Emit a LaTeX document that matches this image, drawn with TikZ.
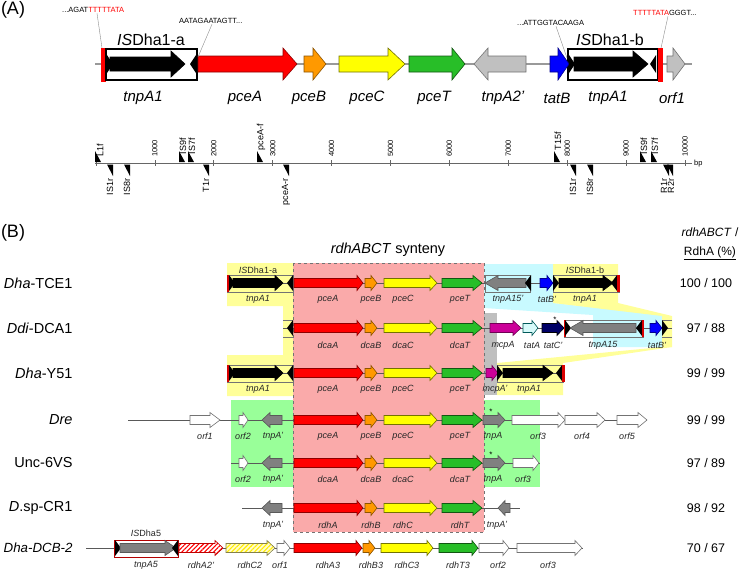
\documentclass[tikz,border=0pt]{standalone}
\usepackage{fontspec}
\setmainfont{Liberation Sans}
\usetikzlibrary{patterns.meta}
\definecolor{cRed}{RGB}{255,0,0}
\definecolor{cOrg}{RGB}{255,153,0}
\definecolor{cYel}{RGB}{255,255,0}
\definecolor{cGrn}{RGB}{40,190,40}
\definecolor{cLgray}{RGB}{192,192,192}
\definecolor{cDgray}{RGB}{128,128,128}
\definecolor{cBlue}{RGB}{0,0,255}
\definecolor{cMag}{RGB}{204,0,153}
\definecolor{cNavy}{RGB}{0,0,102}
\definecolor{cPale}{RGB}{215,250,250}
\definecolor{bgPink}{RGB}{250,170,170}
\definecolor{bgYel}{RGB}{255,255,153}
\definecolor{bgCyan}{RGB}{200,250,255}
\definecolor{bgGrn}{RGB}{153,255,153}
\definecolor{bgGray}{RGB}{191,191,191}
\def\gbh{8}\def\ghh{16}\def\irw{6}\def\irh{9}
\newcommand{\geneR}[5]{\filldraw[#1] (#2,#4-\gbh) -- (#5,#4-\gbh) -- (#5,#4-\ghh) -- (#3,#4) -- (#5,#4+\ghh) -- (#5,#4+\gbh) -- (#2,#4+\gbh) -- cycle;}
\newcommand{\geneL}[5]{\filldraw[#1] (#3,#4-\gbh) -- (#5,#4-\gbh) -- (#5,#4-\ghh) -- (#2,#4) -- (#5,#4+\ghh) -- (#5,#4+\gbh) -- (#3,#4+\gbh) -- cycle;}
\newcommand{\irRt}[2]{\fill (#1,#2-\irh) -- (#1+\irw,#2) -- (#1,#2+\irh) -- cycle;}
\newcommand{\irLt}[2]{\fill (#1,#2-\irh) -- (#1-\irw,#2) -- (#1,#2+\irh) -- cycle;}
\newcommand{\prF}[1]{\fill (#1,151) -- (#1,162) -- (#1+6,162) -- cycle;}
\newcommand{\prRv}[1]{\fill (#1,164.5) -- (#1+6,164.5) -- (#1+6,176) -- cycle;}
\newcommand{\coregenes}[1]{%
\geneR{fred}{294}{363}{#1}{357}%
\geneR{forg}{365}{377}{#1}{371}%
\geneR{fyel}{384}{437}{#1}{430}%
\geneR{fgrn}{442}{482}{#1}{473}}
\newcommand{\corelab}[6]{%
\node[blab] (#1a) at (328,#2) {#3};
\node[blab] (#1b) at (371,#2) {#4};
\node[blab] (#1c) at (403,#2) {#5};
\node[blab] (#1d) at (460,#2) {#6};}
\begin{document}
\begin{tikzpicture}[x=1pt,y=-1pt,
 gbase/.style={line width=0.6pt},
 fred/.style={gbase,fill=cRed,draw=cRed!55!black},
 forg/.style={gbase,fill=cOrg,draw=cOrg!55!black},
 fyel/.style={gbase,fill=cYel,draw=cYel!45!black},
 fgrn/.style={gbase,fill=cGrn,draw=cGrn!45!black},
 flg/.style={gbase,fill=cLgray,draw=black!55},
 fdg/.style={gbase,fill=cDgray,draw=black!65},
 fblu/.style={gbase,fill=cBlue,draw=cBlue!55!black},
 fmag/.style={gbase,fill=cMag,draw=cMag!55!black},
 fnav/.style={gbase,fill=cNavy,draw=black},
 fpale/.style={gbase,fill=cPale,draw=teal!70!black},
 fwht/.style={gbase,fill=white,draw=black!55},
 fblk/.style={gbase,fill=black,draw=black},
 hred/.style={gbase,pattern={Lines[angle=45,distance=3.2pt,line width=1.1pt]},pattern color=red,draw=red!75!black},
 hyel/.style={gbase,pattern={Lines[angle=45,distance=3.2pt,line width=1.1pt]},pattern color=yellow!85!orange,draw=yellow!45!black},
 bline/.style={line width=1.3pt,draw=black!40},
 rline/.style={line width=0.8pt,draw=black!60},
 rowline/.style={line width=0.7pt,draw=black!65},
 isbox/.style={line width=0.5pt,draw=black!55},
 seq/.style={font=\fontsize{7.5}{9}\selectfont,inner sep=0pt},
 seqline/.style={line width=0.4pt,draw=black!45},
 alab/.style={font=\fontsize{15}{17}\selectfont\itshape},
 islab/.style={font=\fontsize{16}{18}\selectfont},
 tlab/.style={font=\fontsize{7.5}{9}\selectfont,inner sep=1pt},
 plab/.style={font=\fontsize{9}{10}\selectfont,inner sep=0.5pt},
 blab/.style={font=\fontsize{9}{10}\selectfont\itshape,text=black!85},
 bis/.style={font=\fontsize{9}{10}\selectfont,text=black!85},
 rname/.style={font=\fontsize{14.5}{16}\selectfont,anchor=east},
 pct/.style={font=\fontsize{12.5}{14}\selectfont},
 star/.style={font=\fontsize{8}{9}\selectfont,inner sep=0pt}]
\useasboundingbox (0,0) rectangle (740,571);
\fill[white] (0,0) rectangle (740,571);
%================ (A) ================
\node[font=\fontsize{18}{20}\selectfont] (panA) at (13,10) {(A)};
\draw[bline] (95,64) -- (692,64);
\fill[red] (101,48) rectangle (106,82);
\filldraw[fill=white,draw=black,line width=2pt] (106,49) rectangle (197,80);
{\def\gbh{7}\def\ghh{13}\geneR{fblk}{110}{185}{64}{171}}
\irRt{107}{64}\irLt{196}{64}
\geneR{fred}{198}{297}{64}{283}
\geneR{forg}{304}{326}{64}{313}
\geneR{fyel}{339}{405}{64}{388}
\geneR{fgrn}{409}{465}{64}{452}
\geneL{flg}{474}{526}{64}{488}
\filldraw[fill=white,draw=black,line width=2pt] (568,49) rectangle (658,80);
\geneR{fblu}{550}{569}{64}{558}
{\def\gbh{7}\def\ghh{13}\geneR{fblk}{574}{648}{64}{633}}
\irRt{569}{64}\irLt{656}{64}
\fill[red] (658,48) rectangle (663,82);
\geneR{flg}{667}{685}{64}{673}
\node[islab] (isa) at (151,40) {\textit{IS}Dha1-a};
\node[islab] (isb) at (610,40) {\textit{IS}Dha1-b};
\node[seq,anchor=base west] (sq1) at (62,12) {...AGAT\textcolor{red}{TTTTTATA}};
\node[seq,anchor=base west] (sq2) at (179,23) {AATAGAATAGTT...};
\node[seq,anchor=base west] (sq3) at (517,25) {...ATTGGTACAAGA};
\node[seq,anchor=base west] (sq4) at (633,15) {\textcolor{red}{TTTTTATA}GGGT...};
\coordinate (ca1) at (102,48);
\coordinate (ca2) at (198,57);
\coordinate (ca3) at (567,58);
\coordinate (ca4) at (661,48);
\draw[seqline] ([xshift=35pt,yshift=-1pt]sq1.south west) -- (ca1);
\draw[seqline] ([xshift=33pt,yshift=-1pt]sq2.south west) -- (ca2);
\draw[seqline] ([xshift=39pt,yshift=-1pt]sq3.south west) -- (ca3);
\draw[seqline] ([xshift=35pt,yshift=-1pt]sq4.south west) -- (ca4);
\node[alab] (a1) at (143,98) {tnpA1};
\node[alab] (a2) at (245,98) {pceA};
\node[alab] (a3) at (309,98) {pceB};
\node[alab] (a4) at (367,98) {pceC};
\node[alab] (a5) at (434,98) {pceT};
\node[alab] (a6) at (503,98) {tnpA2'};
\node[alab] (a7) at (557,98) {tatB};
\node[alab] (a8) at (608,98) {tnpA1};
\node[alab] (a9) at (672,98) {orf1};
% ruler
\draw[rline] (95,163) -- (692,163);
\foreach \k in {0,...,10} \draw[rline] ({96+58.9*\k},160) -- ({96+58.9*\k},166);
\foreach \k in {1,...,10} \node[tlab,rotate=90,anchor=west] (t\k) at ({96+58.9*\k},158) {\k000};
\node[tlab,anchor=west] (bp) at (693,163.5) {bp};
\prF{95}\prF{179}\prF{188}\prF{257}\prF{554}\prF{640}\prF{651}
\prRv{107}\prRv{124}\prRv{203}\prRv{283}\prRv{570}\prRv{587}\prRv{663}\prRv{667}
\node[plab,rotate=90,anchor=west] (pf1) at (100,157) {L1f};
\node[plab,rotate=90,anchor=west] (pf2) at (183,155) {IS9f};
\node[plab,rotate=90,anchor=west] (pf3) at (192,155) {IS7f};
\node[plab,rotate=90,anchor=west] (pf4) at (261,151) {pceA-f};
\node[plab,rotate=90,anchor=west] (pf5) at (558,151) {T15f};
\node[plab,rotate=90,anchor=west] (pf6) at (644,155) {IS9f};
\node[plab,rotate=90,anchor=west] (pf7) at (655,155) {IS7f};
\node[plab,rotate=90,anchor=east] (pr1) at (110,178) {IS1r};
\node[plab,rotate=90,anchor=east] (pr2) at (127,178) {IS8r};
\node[plab,rotate=90,anchor=east] (pr3) at (206,178) {T1r};
\node[plab,rotate=90,anchor=east] (pr4) at (286,178) {pceA-r};
\node[plab,rotate=90,anchor=east] (pr5) at (573,178) {IS1r};
\node[plab,rotate=90,anchor=east] (pr6) at (590,178) {IS8r};
\node[plab,rotate=90,anchor=east] (pr7) at (664,178) {R1r};
\node[plab,rotate=90,anchor=east] (pr8) at (671,178) {R2r};
%================ (B) ================
\node[font=\fontsize{18}{20}\selectfont] (panB) at (13,233) {(B)};
\node[font=\fontsize{14.5}{16}\selectfont] (syn) at (388,250) {\textit{rdhABCT} synteny};
\node[font=\fontsize{12}{14}\selectfont] (h1) at (710,232) {\textit{rdhABCT} /};
\node[font=\fontsize{12}{14}\selectfont] (h2) at (710,253) {\underline{RdhA (\%)}};
% backgrounds
\fill[bgPink] (293,263) rectangle (484,532);
\fill[bgYel] (227,263) -- (293,263) -- (293,396) -- (227,396) -- (227,355) -- (283,355) -- (283,306) -- (227,306) -- cycle;
\fill[bgCyan] (484,264) -- (553,264) -- (553,303) -- (662,315) -- (662,347) -- (593,347) -- (593,315) -- (484,308) -- cycle;
\fill[bgYel] (553,264) -- (618,264) -- (618,303) -- (672,316) -- (672,347) -- (662,347) -- (662,316) -- (553,303) -- cycle;
\fill[bgYel] (662,347) -- (672,347) -- (563,363) -- (563,395) -- (497,395) -- (497,363) -- cycle;
\fill[bgGray] (484,313) rectangle (497,395);
\fill[bgGrn] (231,400) rectangle (293,487);
\fill[bgGrn] (484,400) rectangle (540,487);
\draw[black!55,dashed,line width=0.7pt] (293,263) rectangle (484,532);
\def\gbh{4.5}\def\ghh{7.5}\def\irw{6}\def\irh{8}
% row 1
\draw[rowline] (227,283) -- (619,283);
\draw[isbox] (227,275) rectangle (293,292);
\draw[isbox] (485,275) rectangle (530,292);
\draw[isbox] (553,275) rectangle (619,292);
\fill[red!85!black] (226.5,275) rectangle (229,292);
\irRt{229}{283}
\geneR{fblk}{233}{283}{283}{275}
\irLt{293}{283}
\coregenes{283}
\geneL{fdg}{485}{526}{283}{498}
\irLt{531}{283}
\geneR{fblu}{540}{553}{283}{547}
\irRt{553}{283}
\geneR{fblk}{559}{613}{283}{603}
\irLt{617}{283}
\fill[red!85!black] (617,275) rectangle (619.5,292);
\node[bis] (r1is1) at (258,270) {\textit{IS}Dha1-a};
\node[bis] (r1is2) at (585,270) {\textit{IS}Dha1-b};
\node[blab] (r1l1) at (258,299) {tnpA1};
\corelab{r1c}{299}{pceA}{pceB}{pceC}{pceT}
\node[blab] (r1l2) at (508,299) {tnpA15'};
\node[blab] (r1l3) at (547,299) {tatB'};
\node[blab] (r1l4) at (585,299) {tnpA1};
% row 2
\draw[rowline] (283,328) -- (672,328);
\draw[isbox] (283,320) -- (293,320) (283,337) -- (293,337);
\irLt{293}{328}
\coregenes{328}
\geneR{fmag}{490}{521}{328}{513}
\geneR{fpale}{523}{538}{328}{532}
\geneR{fnav}{542}{564}{328}{557}
\draw[isbox] (564,320) rectangle (643,337);
\fill[red!85!black] (563.5,320) rectangle (565.5,337);
\irRt{565}{328}
\geneL{fdg}{570}{636}{328}{583}
\irLt{642}{328}
\fill[red!85!black] (642,320) rectangle (644,337);
\geneR{fblu}{650}{662}{328}{656}
\draw[isbox] (662,320) -- (672,320) (662,337) -- (672,337);
\irRt{662}{328}
\node[star] (st1) at (555,320) {*};
\corelab{r2c}{345}{dcaA}{dcaB}{dcaC}{dcaT}
\node[blab] (r2l1) at (503,345) {mcpA};
\node[blab] (r2l2) at (532,345) {tatA};
\node[blab] (r2l3) at (553,345) {tatC'};
\node[blab] (r2l4) at (603,345) {tnpA15};
\node[blab] (r2l5) at (657,345) {tatB'};
% row 3
\draw[rowline] (227,373) -- (564,373);
\draw[isbox] (227,365) rectangle (293,382);
\fill[red!85!black] (226.5,365) rectangle (229,382);
\irRt{229}{373}
\geneR{fblk}{233}{283}{373}{275}
\irLt{293}{373}
\coregenes{373}
\geneR{fmag}{486}{498}{373}{492}
\draw[isbox] (497,365) rectangle (563,382);
\irRt{497}{373}
\geneR{fblk}{503}{553}{373}{543}
\irLt{562}{373}
\fill[red!85!black] (562,365) rectangle (564.5,382);
\node[blab] (r3l1) at (258,389) {tnpA1};
\corelab{r3c}{389}{pceA}{pceB}{pceC}{pceT}
\node[blab] (r3l2) at (495,389) {mcpA'};
\node[blab] (r3l3) at (529,389) {tnpA1};
% row 4
\draw[rowline] (128,420) -- (647,420);
\geneR{fwht}{190}{220}{420}{210}
\geneR{fwht}{239}{248}{420}{243}
\geneL{fdg}{262}{282}{420}{270}
\coregenes{420}
\geneR{fdg}{483}{505}{420}{498}
\geneR{fwht}{512}{565}{420}{558}
\geneR{fwht}{565}{605}{420}{597}
\geneR{fwht}{617}{647}{420}{638}
\node[star] (st2) at (491,412) {*};
\node[blab] (r4l1) at (205,436) {orf1};
\node[blab] (r4l2) at (243,436) {orf2};
\node[blab] (r4l3) at (273,436) {tnpA'};
\corelab{r4c}{436}{pceA}{pceB}{pceC}{pceT}
\node[blab] (r4l4) at (493,436) {tnpA};
\node[blab] (r4l5) at (538,436) {orf3};
\node[blab] (r4l6) at (582,436) {orf4};
\node[blab] (r4l7) at (627,436) {orf5};
% row 5
\draw[rowline] (231,463) -- (540,463);
\geneR{fwht}{239}{248}{463}{243}
\geneL{fdg}{262}{282}{463}{270}
\coregenes{463}
\geneR{fdg}{483}{505}{463}{498}
\geneR{fwht}{513}{539}{463}{533}
\node[star] (st3) at (491,455) {*};
\node[blab] (r5l1) at (243,479) {orf2};
\node[blab] (r5l2) at (273,479) {tnpA'};
\corelab{r5c}{479}{dcaA}{dcaB}{dcaC}{dcaT}
\node[blab] (r5l3) at (493,479) {tnpA};
\node[blab] (r5l4) at (523,479) {orf3};
% row 6
\draw[rowline] (242,508) -- (520,508);
\geneL{fdg}{262}{282}{508}{270}
\coregenes{508}
\geneL{fdg}{498}{510}{508}{505}
\node[blab] (r6l1) at (273,525) {tnpA'};
\corelab{r6c}{525}{rdhA}{rdhB}{rdhC}{rdhT}
\node[blab] (r6l2) at (497,525) {tnpA'};
% row 7
\draw[rowline] (86,548) -- (583,548);
\filldraw[fill=white,draw=red!70!black,line width=0.8pt] (114,540) rectangle (178,557);
\irRt{115}{548}
\geneR{fdg}{120}{176}{548}{165}
\irLt{178}{548}
\geneR{fill=white,draw=none}{179}{223}{548}{215}
\geneR{hred}{179}{223}{548}{215}
\geneR{fill=yellow!20,draw=none}{226}{275}{548}{267}
\geneR{hyel}{226}{275}{548}{267}
\geneR{fwht}{277}{290}{548}{284}
\geneR{fred}{294}{362}{548}{356}
\geneR{forg}{363}{375}{548}{369}
\geneR{fyel}{381}{433}{548}{427}
\geneR{fgrn}{439}{478}{548}{472}
\geneR{fwht}{479}{509}{548}{503}
\geneR{fwht}{517}{582}{548}{575}
\node[bis] (r7is) at (146,533) {\textit{IS}Dha5};
\node[blab] (r7l1) at (146,565) {tnpA5};
\node[blab] (r7l2) at (201,565) {rdhA2'};
\node[blab] (r7l3) at (250,565) {rdhC2};
\node[blab] (r7l4) at (280,565) {orf1};
\node[blab] (r7l5) at (328,565) {rdhA3};
\node[blab] (r7l6) at (371,565) {rdhB3};
\node[blab] (r7l7) at (407,565) {rdhC3};
\node[blab] (r7l8) at (458,565) {rdhT3};
\node[blab] (r7l9) at (498,565) {orf2};
\node[blab] (r7l10) at (548,565) {orf3};
% row names
\node[rname] (n1) at (76,283) {\textit{Dha}-TCE1};
\node[rname] (n2) at (76,328) {\textit{Ddi}-DCA1};
\node[rname] (n3) at (76,373) {\textit{Dha}-Y51};
\node[rname] (n4) at (76,420) {\textit{Dre}};
\node[rname] (n5) at (76,463) {Unc-6VS};
\node[rname] (n6) at (76,508) {\textit{D}.sp-CR1};
\node[rname,font=\fontsize{13.3}{15}\selectfont] (n7) at (76,548) {\textit{Dha-DCB-2}};
% percentages
\node[pct] (p1) at (706,283) {100 / 100};
\node[pct] (p2) at (706,328) {97 / 88};
\node[pct] (p3) at (706,373) {99 / 99};
\node[pct] (p4) at (706,420) {99 / 99};
\node[pct] (p5) at (706,463) {97 / 89};
\node[pct] (p6) at (706,508) {98 / 92};
\node[pct] (p7) at (706,548) {70 / 67};
\end{tikzpicture}
\end{document}
